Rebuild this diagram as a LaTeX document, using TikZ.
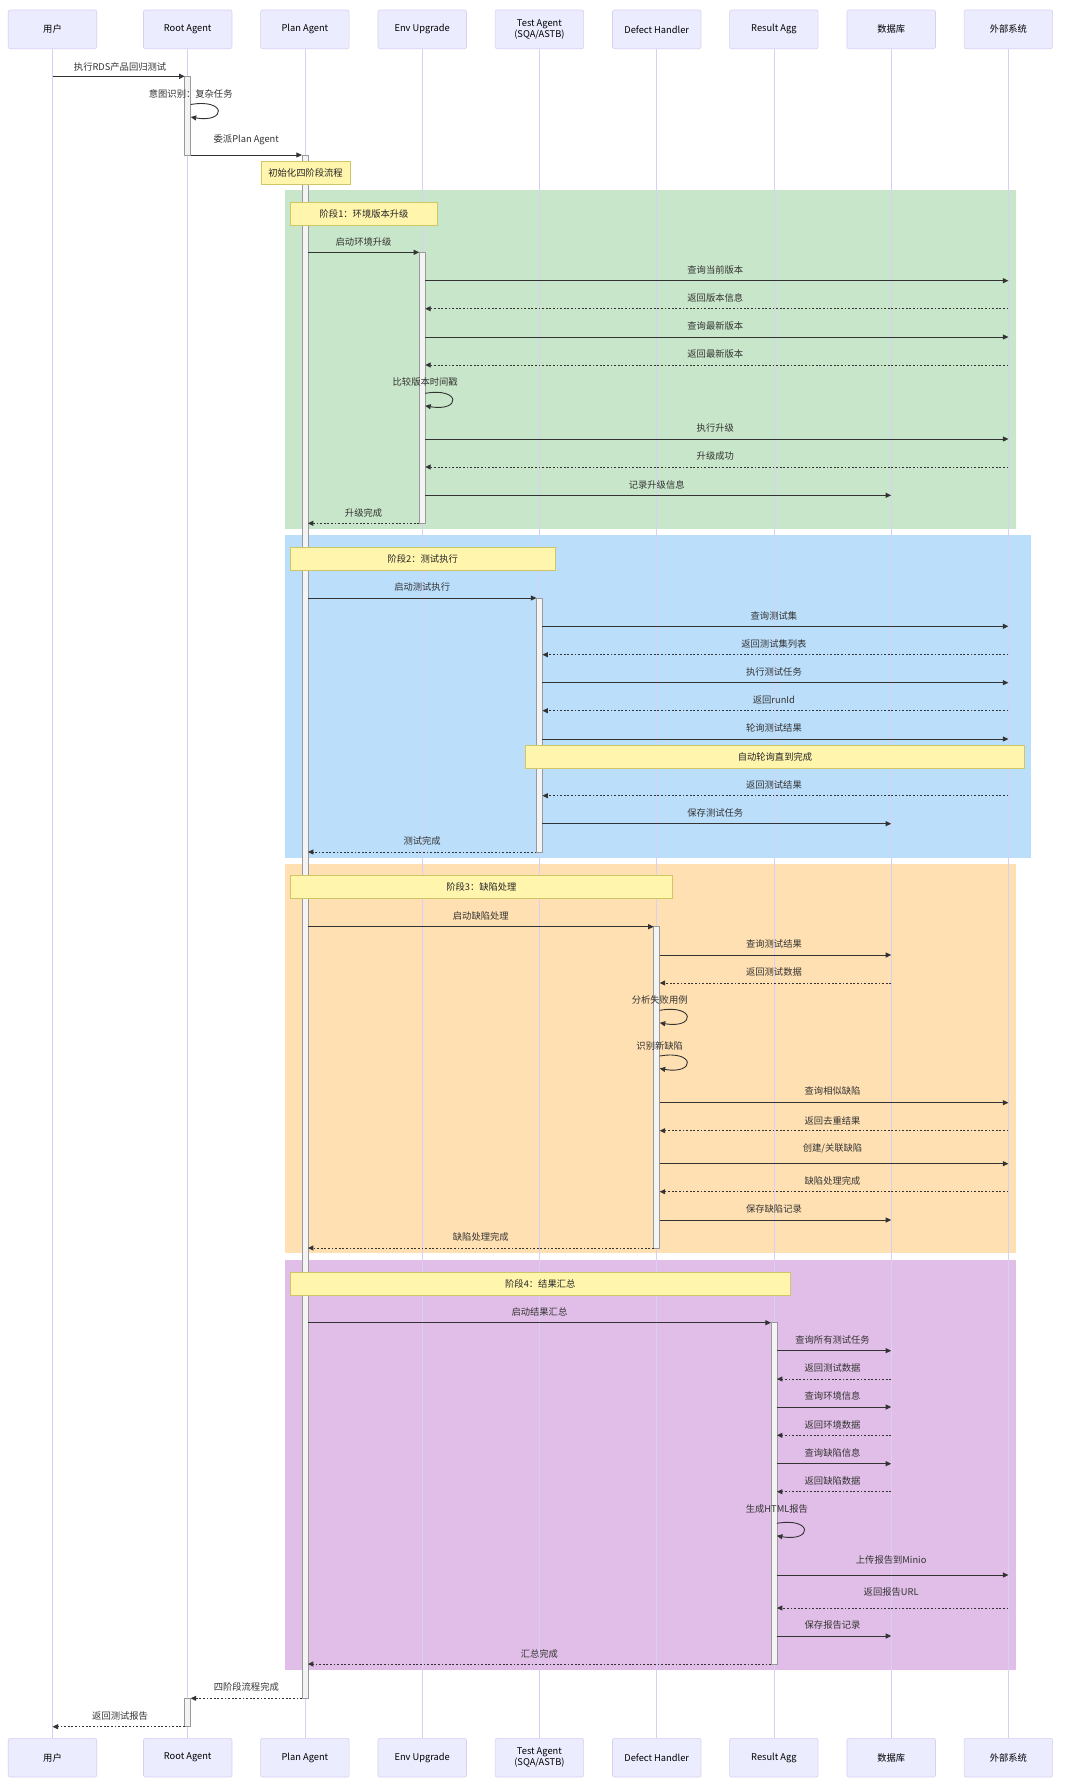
\documentclass[tikz,border=0pt]{standalone}
\usepackage{fontspec}
\setmainfont{Noto Sans CJK SC}
\usetikzlibrary{arrows.meta}
\definecolor{actorfill}{HTML}{ECECFF}
\definecolor{actorline}{HTML}{DACEF3}
\definecolor{lifecol}{HTML}{D9CEF3}
\definecolor{actfill}{HTML}{F4F4F4}
\definecolor{actline}{HTML}{9A9A9A}
\definecolor{notefill}{HTML}{FFF5AD}
\definecolor{noteline}{HTML}{CFC766}
\definecolor{msgcol}{HTML}{333333}
\definecolor{gbg}{HTML}{C8E6C9}
\definecolor{bbg}{HTML}{BBDEFB}
\definecolor{obg}{HTML}{FFE0B2}
\definecolor{pbg}{HTML}{E1BEE7}
\def\xxU{52.5}
\def\xxR{187.7}
\def\xxP{304.9}
\def\xxE{422.2}
\def\xxT{539.4}
\def\xxD{656.7}
\def\xxA{773.9}
\def\xxB{891.2}
\def\xxX{1008.4}
\tikzset{
  actorbox/.style={rectangle, rounded corners=2pt, fill=actorfill, draw=actorline, line width=0.6pt, minimum width=88.5pt, minimum height=38.7pt, inner sep=0pt, font=\fontsize{9.3}{9.8}\selectfont, text=black, align=center},
  lifeline/.style={draw=lifecol, line width=0.7pt},
  actbox/.style={fill=actfill, draw=actline, line width=0.6pt},
  notebox/.style={rectangle, fill=notefill, draw=noteline, line width=0.6pt, minimum height=23pt, inner sep=0pt, anchor=north west, font=\fontsize{9.3}{11}\selectfont, text=black!85},
  msglabel/.style={inner sep=0pt, font=\fontsize{9.3}{11}\selectfont, text=msgcol},
  solidmsg/.style={draw=msgcol, line width=0.9pt, -{Triangle[length=5.5pt,width=5pt]}},
  dotmsg/.style={solidmsg, dash pattern=on 1.8pt off 1.8pt},
}
% #1 name, #2 from lifeline, #3 from x, #4 to lifeline, #5 to x, #6 y, #7 label y, #8 style, #9 text
\newcommand{\Msg}[9]{%
  \coordinate (#1s) at (#3,#6);
  \coordinate (#1e) at (#5,#6);
  \draw[#8] (#1s) -- (#1e);
  \node[msglabel] (#1l) at ({(#2+#4)/2},#7) {#9};
}
% #1 name, #2 x0, #3 y0, #4 label y, #5 text
\newcommand{\SelfMsg}[5]{%
  \coordinate (#1s) at (#2,#3);
  \coordinate (#1e) at (#2,#3+12.5);
  \draw[solidmsg] (#1s) .. controls (#2+36,#3-6.2) and (#2+36,#3+18.7) .. (#1e);
  \node[msglabel] (#1l) at (#2,#4) {#5};
}
% #1 name, #2 x1, #3 y1, #4 width, #5 text
\newcommand{\SeqNote}[5]{%
  \node[notebox, minimum width=#4pt] (#1) at (#2,#3) {#5};
}
\begin{document}
\begin{tikzpicture}[x=1pt,y=-1pt]
\useasboundingbox (0,0) rectangle (1080,1789);
\fill[white] (0,0) rectangle (1080,1789);
% phase regions
\fill[gbg] (284.5,190) rectangle (1015.5,529);
\fill[bbg] (284.5,535.3) rectangle (1031,857.7);
\fill[obg] (284.5,864) rectangle (1015.5,1253.3);
\fill[pbg] (284.5,1260) rectangle (1015.5,1669.5);
% actors top
\node[actorbox] (aU) at (\xxU,29.35) {用户};
\node[actorbox] (aR) at (\xxR,29.35) {Root Agent};
\node[actorbox] (aP) at (\xxP,29.35) {Plan Agent};
\node[actorbox] (aE) at (\xxE,29.35) {Env Upgrade};
\node[actorbox] (aT) at (\xxT,29.35) {Test Agent\\(SQA/ASTB)};
\node[actorbox] (aD) at (\xxD,29.35) {Defect Handler};
\node[actorbox] (aA) at (\xxA,29.35) {Result Agg};
\node[actorbox] (aB) at (\xxB,29.35) {数据库};
\node[actorbox] (aX) at (\xxX,29.35) {外部系统};
% actors bottom
\node[actorbox] (bU) at (\xxU,1757.65) {用户};
\node[actorbox] (bR) at (\xxR,1757.65) {Root Agent};
\node[actorbox] (bP) at (\xxP,1757.65) {Plan Agent};
\node[actorbox] (bE) at (\xxE,1757.65) {Env Upgrade};
\node[actorbox] (bT) at (\xxT,1757.65) {Test Agent\\(SQA/ASTB)};
\node[actorbox] (bD) at (\xxD,1757.65) {Defect Handler};
\node[actorbox] (bA) at (\xxA,1757.65) {Result Agg};
\node[actorbox] (bB) at (\xxB,1757.65) {数据库};
\node[actorbox] (bX) at (\xxX,1757.65) {外部系统};
% lifelines
\foreach \k in {U,R,P,E,T,D,A,B,X} {\draw[lifeline] (a\k) -- (b\k);}
% activations
\draw[actbox] (\xxR-3,76.3) rectangle (\xxR+3,155);
\draw[actbox] (\xxR-3,1698.3) rectangle (\xxR+3,1726.7);
\draw[actbox] (\xxP-3,155) rectangle (\xxP+3,1698.3);
\draw[actbox] (\xxE-3,252.3) rectangle (\xxE+3,523.3);
\draw[actbox] (\xxT-3,598) rectangle (\xxT+3,852);
\draw[actbox] (\xxD-3,926.7) rectangle (\xxD+3,1248);
\draw[actbox] (\xxA-3,1322.7) rectangle (\xxA+3,1664);
% notes
\SeqNote{n0}{261}{161}{88.5}{初始化四阶段流程}
\SeqNote{n1}{290.4}{201.7}{146.8}{阶段1：环境版本升级}
\SeqNote{n2}{290.4}{547}{264.1}{阶段2：测试执行}
\SeqNote{n2b}{525}{744.7}{499.3}{自动轮询直到完成}
\SeqNote{n3}{290.4}{875.3}{381.4}{阶段3：缺陷处理}
\SeqNote{n4}{290.4}{1271.7}{499.2}{阶段4：结果汇总}
% messages
\Msg{m1}{\xxU}{\xxU}{\xxR}{\xxR-3}{76.3}{66.7}{solidmsg}{执行RDS产品回归测试}
\SelfMsg{m2}{\xxR+3}{104.5}{93.5}{意图识别：复杂任务}
\Msg{m3}{\xxR}{\xxR+3}{\xxP}{\xxP-3}{155}{140}{solidmsg}{委派Plan Agent}
% phase 1
\Msg{m6}{\xxP}{\xxP+3}{\xxE}{\xxE-3}{252.3}{241.7}{solidmsg}{启动环境升级}
\Msg{m7}{\xxE}{\xxE+3}{\xxX}{\xxX}{280.7}{270}{solidmsg}{查询当前版本}
\Msg{m8}{\xxX}{\xxX}{\xxE}{\xxE+3}{308.7}{298}{dotmsg}{返回版本信息}
\Msg{m9}{\xxE}{\xxE+3}{\xxX}{\xxX}{337}{326.3}{solidmsg}{查询最新版本}
\Msg{m10}{\xxX}{\xxX}{\xxE}{\xxE+3}{365}{354.3}{dotmsg}{返回最新版本}
\SelfMsg{m11}{\xxE+3}{393.3}{382.3}{比较版本时间戳}
\Msg{m12}{\xxE}{\xxE+3}{\xxX}{\xxX}{439}{428.3}{solidmsg}{执行升级}
\Msg{m13}{\xxX}{\xxX}{\xxE}{\xxE+3}{467}{456.3}{dotmsg}{升级成功}
\Msg{m14}{\xxE}{\xxE+3}{\xxB}{\xxB}{495.3}{484.6}{solidmsg}{记录升级信息}
\Msg{m15}{\xxE}{\xxE-3}{\xxP}{\xxP+3}{523.3}{512.6}{dotmsg}{升级完成}
% phase 2
\Msg{m17}{\xxP}{\xxP+3}{\xxT}{\xxT-3}{598}{587}{solidmsg}{启动测试执行}
\Msg{m18}{\xxT}{\xxT+3}{\xxX}{\xxX}{626.3}{615.5}{solidmsg}{查询测试集}
\Msg{m19}{\xxX}{\xxX}{\xxT}{\xxT+3}{654.7}{643.8}{dotmsg}{返回测试集列表}
\Msg{m20}{\xxT}{\xxT+3}{\xxX}{\xxX}{682.7}{671.8}{solidmsg}{执行测试任务}
\Msg{m21}{\xxX}{\xxX}{\xxT}{\xxT+3}{710.7}{699.7}{dotmsg}{返回runId}
\Msg{m22}{\xxT}{\xxT+3}{\xxX}{\xxX}{739}{728.2}{solidmsg}{轮询测试结果}
\Msg{m24}{\xxX}{\xxX}{\xxT}{\xxT+3}{795.7}{785}{dotmsg}{返回测试结果}
\Msg{m25}{\xxT}{\xxT+3}{\xxB}{\xxB}{823.7}{813}{solidmsg}{保存测试任务}
\Msg{m26}{\xxT}{\xxT-3}{\xxP}{\xxP+3}{852}{841.2}{dotmsg}{测试完成}
% phase 3
\Msg{m28}{\xxP}{\xxP+3}{\xxD}{\xxD-3}{926.7}{915.7}{solidmsg}{启动缺陷处理}
\Msg{m29}{\xxD}{\xxD+3}{\xxB}{\xxB}{955}{944}{solidmsg}{查询测试结果}
\Msg{m30}{\xxB}{\xxB}{\xxD}{\xxD+3}{983}{972}{dotmsg}{返回测试数据}
\SelfMsg{m31}{\xxD+3}{1010.3}{1000}{分析失败用例}
\SelfMsg{m32}{\xxD+3}{1056}{1045.7}{识别新缺陷}
\Msg{m33}{\xxD}{\xxD+3}{\xxX}{\xxX}{1102.7}{1091.3}{solidmsg}{查询相似缺陷}
\Msg{m34}{\xxX}{\xxX}{\xxD}{\xxD+3}{1130.7}{1120.7}{dotmsg}{返回去重结果}
\Msg{m35}{\xxD}{\xxD+3}{\xxX}{\xxX}{1163.7}{1148.7}{solidmsg}{创建/关联缺陷}
\Msg{m36}{\xxX}{\xxX}{\xxD}{\xxD+3}{1191.7}{1181}{dotmsg}{缺陷处理完成}
\Msg{m37}{\xxD}{\xxD+3}{\xxB}{\xxB}{1220}{1209.3}{solidmsg}{保存缺陷记录}
\Msg{m38}{\xxD}{\xxD-3}{\xxP}{\xxP+3}{1248}{1237.3}{dotmsg}{缺陷处理完成}
% phase 4
\Msg{m40}{\xxP}{\xxP+3}{\xxA}{\xxA-3}{1322.7}{1312}{solidmsg}{启动结果汇总}
\Msg{m41}{\xxA}{\xxA+3}{\xxB}{\xxB}{1350.7}{1340}{solidmsg}{查询所有测试任务}
\Msg{m42}{\xxB}{\xxB}{\xxA}{\xxA+3}{1379}{1368.3}{dotmsg}{返回测试数据}
\Msg{m43}{\xxA}{\xxA+3}{\xxB}{\xxB}{1407}{1396.3}{solidmsg}{查询环境信息}
\Msg{m44}{\xxB}{\xxB}{\xxA}{\xxA+3}{1435.3}{1424.7}{dotmsg}{返回环境数据}
\Msg{m45}{\xxA}{\xxA+3}{\xxB}{\xxB}{1463.7}{1452.7}{solidmsg}{查询缺陷信息}
\Msg{m46}{\xxB}{\xxB}{\xxA}{\xxA+3}{1491.7}{1481}{dotmsg}{返回缺陷数据}
\SelfMsg{m47}{\xxA+3}{1523.3}{1509}{生成HTML报告}
\Msg{m48}{\xxA}{\xxA+3}{\xxX}{\xxX}{1575}{1560}{solidmsg}{上传报告到Minio}
\Msg{m49}{\xxX}{\xxX}{\xxA}{\xxA+3}{1608}{1592.3}{dotmsg}{返回报告URL}
\Msg{m50}{\xxA}{\xxA+3}{\xxB}{\xxB}{1636}{1624.7}{solidmsg}{保存报告记录}
\Msg{m51}{\xxA}{\xxA-3}{\xxP}{\xxP+3}{1664}{1653.7}{dotmsg}{汇总完成}
% closing
\Msg{m52}{\xxP}{\xxP-3}{\xxR}{\xxR+3}{1698.3}{1687.3}{dotmsg}{四阶段流程完成}
\Msg{m53}{\xxR}{\xxR-3}{\xxU}{\xxU}{1726.7}{1715.7}{dotmsg}{返回测试报告}
\end{tikzpicture}
\end{document}
